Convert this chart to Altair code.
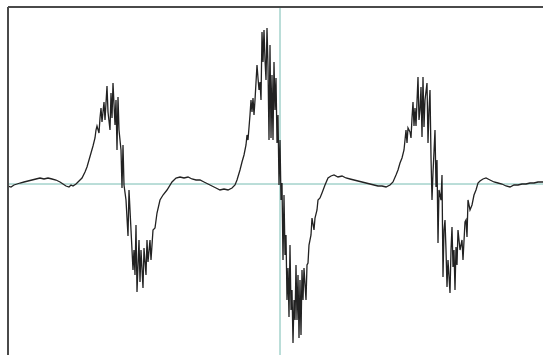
import altair as alt
import pandas as pd

# Spectrum trace: field position (arbitrary channel units) and signal amplitude
field = [
    8, 11, 14, 17, 20, 24, 28, 32, 36, 40, 44, 48, 52, 56, 60, 63, 66, 69, 71, 73, 76, 79,
    82, 85, 87, 89, 91, 93, 95, 96, 97, 99, 100, 101, 102,
    104, 105, 107, 108, 110, 111, 112, 113, 115, 116, 117, 118, 119, 120,
    121, 122, 123, 124, 126, 128, 129, 131, 133, 134, 135, 136, 137, 139, 140, 141, 143, 144,
    146, 147, 148, 150, 151, 153, 155, 157, 160, 163, 167, 172, 176, 180,
    184, 188, 192, 196, 200, 204, 208, 212, 216, 220, 224, 228, 232, 235, 237,
    240, 242, 244, 246, 247, 248, 250, 251, 252, 253, 254, 255, 257, 258, 259, 260, 261,
    262, 263, 264, 265, 266, 267, 268, 269, 270, 271, 272, 273, 274, 275, 276, 277, 278, 279, 280, 281,
    282, 283, 284, 285, 286, 287, 288, 289, 290, 291, 292, 293, 294, 295, 296, 297, 298, 299, 300,
    301, 302, 303, 304, 306, 307, 308, 309, 311, 312, 314, 315, 317, 318, 320, 322, 325, 328, 331, 334,
    338, 342, 346, 350, 354, 358, 362, 366, 370, 374, 378, 382, 386, 390, 393,
    396, 398, 400, 402, 404, 405, 406, 407, 408, 410, 411, 412, 413, 414, 415,
    416, 418, 419, 420, 421, 422, 423, 424, 425, 427, 428, 429, 430, 431, 432, 433, 435, 436, 437,
    438, 439, 441, 442, 443, 444, 445, 446, 447, 448, 450, 451, 452, 453, 454, 455, 456, 457, 458,
    460, 462, 463, 465, 466, 467, 468, 470, 472, 474, 476, 478, 480, 483, 486, 490, 494, 498, 502,
    506, 510, 514, 518, 522, 526, 530, 534, 538, 543,
]
signal = [
    -2, -3, -1, 0, 1, 2, 3, 4, 5, 6, 5, 6, 5, 4, 2, 0, -2, -3, -1, -2, 0, 3,
    6, 12, 17, 24, 31, 38, 46, 54, 58, 51, 66, 76, 62,
    82, 64, 98, 72, 54, 91, 66, 101, 59, 84, 34, 87, 54, 44,
    34, -4, 39, -1, -16, -52, -6, -46, -86, -66, -91, -41, -108, -56, -98, -66, -104, -64,
    -91, -56, -78, -56, -76, -46, -44, -29, -16, -11, -6, 2, 6, 7,
    6, 7, 5, 4, 4, 2, 0, -2, -4, -6, -5, -6, -4, -1, 4,
    14, 22, 29, 39, 49, 44, 69, 84, 72, 86, 69, 84, 119, 106, 94, 102, 84,
    152, 122, 154, 124, 104, 156, 117, 44, 139, 46, 109, 44, 122, 74, 106, 41, 69, -1, 44, -16,
    1, -76, -11, -71, -51, -116, -84, -133, -61, -126, -106, -159, -116, -136, -81, -136, -91, -154, -96,
    -151, -86, -116, -84, -116, -81, -79, -61, -51, -34, -46, -34, -26, -16, -14, -9, -1, 6, 8, 9,
    7, 8, 6, 5, 4, 3, 2, 1, 0, -1, -2, -2, -3, -1, 2,
    9, 14, 21, 26, 34, 44, 54, 41, 56, 52, 46, 66, 82, 58, 76,
    58, 107, 64, 74, 97, 47, 107, 57, 84, 101, 41, 74, 94, 27, -16, 11, 54, -3, 24,
    -59, -6, -16, 9, -93, -46, -36, -66, -103, -76, -109, -66, -43, -83, -66, -106, -63, -81, -46,
    -66, -56, -76, -38, -36, -53, -16, -26, -21, -11, -6, 1, 3, 5, 6, 4, 2, 1, 0,
    -2, -3, -1, -1, 0, 0, 1, 1, 2, 2,
]

# Cross-hair reference lines and plot frame limits
cross_field = [280]
cross_signal = [0]
field_range = [8, 543]
signal_range = [-171, 177]

trace_df = pd.DataFrame({"field": field, "signal": signal})
x_scale = alt.Scale(domain=field_range, nice=False, zero=False)
y_scale = alt.Scale(domain=signal_range, nice=False, zero=False)

teal = "#76bcb2"
frame_color = "#4a4a4a"

hline = alt.Chart(pd.DataFrame({"signal": cross_signal})).mark_rule(
    color=teal, strokeWidth=1
).encode(y=alt.Y("signal:Q", scale=y_scale, axis=None))

vline = alt.Chart(pd.DataFrame({"field": cross_field})).mark_rule(
    color=teal, strokeWidth=1
).encode(x=alt.X("field:Q", scale=x_scale, axis=None))

trace = alt.Chart(trace_df).mark_line(
    color="#222222", strokeWidth=1.3, clip=True
).encode(
    x=alt.X("field:Q", scale=x_scale, axis=None),
    y=alt.Y("signal:Q", scale=y_scale, axis=None),
)

top_edge = alt.Chart(pd.DataFrame({"signal": [signal_range[1]]})).mark_rule(
    color=frame_color, strokeWidth=2
).encode(y=alt.Y("signal:Q", scale=y_scale, axis=None))

left_edge = alt.Chart(pd.DataFrame({"field": [field_range[0]]})).mark_rule(
    color=frame_color, strokeWidth=2
).encode(x=alt.X("field:Q", scale=x_scale, axis=None))

chart = alt.layer(hline, vline, trace, top_edge, left_edge).properties(
    width=535,
    height=348,
    padding={"left": 8, "top": 7, "right": 0, "bottom": 0},
    autosize=alt.AutoSizeParams(type="none"),
    background="white",
).configure_view(stroke=None)

chart.save("out.html", embed_options={"renderer": "svg", "actions": False})
